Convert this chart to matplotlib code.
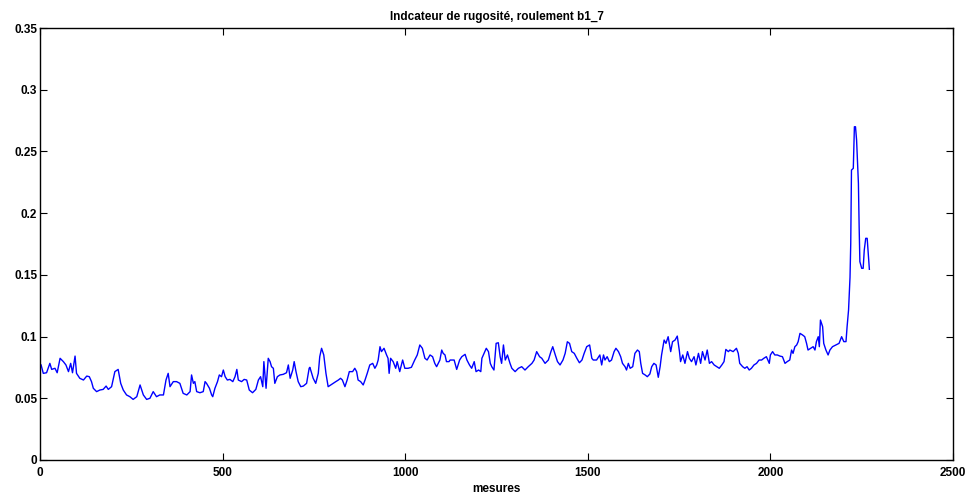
import matplotlib
matplotlib.use("Agg")
import matplotlib.pyplot as plt
import numpy as np

mesures = [
    3, 9, 18, 27, 32, 41, 47, 55, 64, 71, 78, 84, 89, 96, 100, 109, 119, 128, 135, 141,
    146, 155, 164, 173, 181, 187, 196, 205, 214, 221, 228, 237, 246, 255, 265, 274, 283, 292, 301, 310,
    319, 328, 338, 345, 351, 356, 365, 374,
    383, 392, 402, 411, 415, 420, 424, 429, 438, 447, 452, 456, 464, 470, 473, 479, 486, 491, 497, 502,
    507, 513, 520, 528, 534, 539, 543, 552, 559, 566, 573, 582, 591, 598, 604, 610, 613, 619, 625, 630,
    634, 639, 643, 650, 657, 666, 675, 680, 685, 692, 696, 701, 707, 714, 721, 730, 737,
    739, 748, 755, 762, 766, 771, 777, 783, 789, 796, 803, 810, 817, 823, 828, 835, 841, 847, 856, 862,
    867, 871, 878, 885, 890, 896, 903, 911, 917, 922, 926, 931, 935, 942, 949, 953, 956, 960, 967, 974,
    978, 985, 993, 999, 1008, 1017, 1026, 1033, 1040, 1047, 1054, 1060, 1068, 1075, 1081, 1086, 1095,
    1100, 1104, 1109, 1113, 1120,
    1123, 1134, 1141, 1149, 1155, 1164, 1169, 1176, 1182, 1189, 1194, 1201, 1207, 1210, 1214, 1222, 1228,
    1233, 1237, 1243, 1249, 1255, 1260, 1264, 1269, 1274, 1280, 1287, 1292, 1301, 1310, 1319, 1328, 1337,
    1347, 1353, 1360, 1368, 1374, 1383, 1392, 1399, 1404, 1411, 1417, 1424, 1432, 1438, 1444, 1450, 1456,
    1463, 1470, 1477, 1484, 1490, 1497, 1505,
    1511, 1515, 1524, 1533, 1538, 1543, 1547, 1553, 1559, 1565, 1572, 1577, 1584, 1590, 1595, 1602, 1606,
    1611, 1616, 1623, 1629, 1636, 1641, 1645, 1650, 1657, 1663, 1670, 1675, 1681, 1687, 1693, 1698, 1702,
    1709, 1714, 1720, 1727, 1732, 1739, 1745, 1751, 1754, 1760, 1766, 1773, 1778, 1784, 1791, 1796, 1803,
    1809, 1814, 1821, 1827, 1833, 1839, 1846, 1853, 1860, 1867, 1873, 1878, 1885,
    1889, 1898, 1907, 1912, 1916, 1924, 1930, 1936, 1942, 1948, 1955, 1962, 1969, 1976, 1982, 1989, 1997,
    2000, 2006, 2012, 2019, 2026, 2033, 2040, 2046, 2053, 2058, 2062, 2067, 2072, 2076, 2081, 2088, 2094,
    2099, 2103, 2110, 2117, 2122, 2126, 2131, 2134, 2137, 2143, 2146, 2152, 2158, 2163, 2170, 2179, 2188,
    2195, 2201, 2207, 2210, 2214,
    2218, 2220, 2222, 2227, 2230, 2233, 2236, 2241, 2243, 2245, 2250, 2254, 2257, 2261, 2265, 2268, 2271,
]
rugosite = [
    .0770, .0702, .0707, .0783, .0734, .0743, .0707, .0824, .0797, .0770, .0716, .0783, .0707, .0842, .0702,
    .0662, .0648, .0680, .0675, .0635, .0581, .0554, .0567, .0572, .0599, .0572, .0594, .0716, .0734, .0621,
    .0567, .0527, .0513, .0491, .0513, .0608, .0527, .0491, .0500, .0554, .0513, .0527, .0527, .0648, .0702,
    .0594, .0635, .0635,
    .0621, .0540, .0527, .0554, .0689, .0621, .0635, .0554, .0545, .0554, .0635, .0621, .0581, .0527, .0513,
    .0581, .0635, .0689, .0675, .0729, .0675, .0648, .0653, .0635, .0675, .0734, .0648, .0635, .0653, .0648,
    .0567, .0545, .0572, .0648, .0675, .0594, .0797, .0581, .0824, .0797, .0756, .0743, .0621, .0675, .0689,
    .0694, .0707, .0770, .0662, .0729, .0797, .0716, .0635, .0594, .0599, .0621, .0743,
    .0751, .0662, .0621, .0702, .0837, .0905, .0851, .0702, .0594, .0608, .0621, .0635, .0648, .0662, .0648,
    .0594, .0648, .0716, .0716, .0743, .0716, .0648, .0635, .0608, .0648, .0702, .0770, .0783, .0743, .0770,
    .0810, .0918, .0878, .0905, .0851, .0824, .0702, .0824, .0797, .0743, .0797, .0716, .0810, .0743, .0743,
    .0751, .0810, .0851, .0932, .0905, .0824, .0810, .0851, .0837, .0783, .0756, .0810, .0891, .0864, .0851,
    .0797, .0797,
    .0810, .0810, .0734, .0810, .0837, .0856, .0810, .0770, .0743, .0797, .0716, .0729, .0716, .0824, .0851,
    .0905, .0878, .0783, .0756, .0729, .0945, .0950, .0837, .0783, .0932, .0810, .0851, .0783, .0743, .0716,
    .0743, .0756, .0729, .0756, .0783, .0810, .0878, .0837, .0824, .0783, .0810, .0878, .0918, .0851, .0797,
    .0770, .0810, .0864, .0958, .0945, .0878, .0864, .0824, .0788, .0810, .0864, .0918, .0932,
    .0824, .0810, .0810, .0851, .0770, .0851, .0810, .0837, .0797, .0810, .0878, .0905, .0878, .0837, .0783,
    .0756, .0729, .0783, .0743, .0756, .0864, .0891, .0878, .0783, .0702, .0689, .0675, .0697, .0756, .0783,
    .0770, .0670, .0756, .0851, .0972, .0945, .0999, .0878, .0958, .0972, .1004, .0878, .0797, .0851, .0783,
    .0878, .0824, .0797, .0837, .0770, .0864, .0783, .0878, .0810, .0891, .0783, .0797, .0770, .0756, .0743,
    .0770, .0797, .0896, .0878,
    .0891, .0878, .0905, .0864, .0783, .0756, .0743, .0756, .0729, .0743, .0770, .0783, .0810, .0810, .0824,
    .0837, .0783, .0851, .0878, .0851, .0851, .0842, .0837, .0783, .0797, .0810, .0891, .0864, .0918, .0932,
    .0959, .1026, .1013, .0999, .0945, .0891, .0905, .0918, .0891, .0959, .0999, .0918, .1134, .1080, .0945,
    .0891, .0851, .0891, .0918, .0932, .0945, .0999, .0959, .0959, .1080, .1215,
    .148, .1755, .2349, .2363, .270, .270, .2592, .2241, .189, .1607, .1553, .1553, .170, .1796, .1796,
    .1674, .1545,
]
xticks = [0, 500, 1000, 1500, 2000, 2500]
yticks = [0, 0.05, 0.1, 0.15, 0.2, 0.25, 0.3, 0.35]
ylabels = ["0", "0.05", "0.1", "0.15", "0.2", "0.25", "0.3", "0.35"]

plt.rcParams['font.family'] = ['Liberation Sans', 'DejaVu Sans']
plt.rcParams['font.weight'] = 'bold'

fig = plt.figure(figsize=(9.74, 4.95), dpi=100)
ax = fig.add_axes([40 / 974, 35 / 495, 913 / 974, 432 / 495])

ax.plot(mesures, rugosite, color=(0, 0, 1), linewidth=1.0)

ax.set_xlim(0, 2500)
ax.set_ylim(0, 0.35)
ax.set_xticks(xticks)
ax.set_xticklabels([str(t) for t in xticks])
ax.set_yticks(yticks)
ax.set_yticklabels(ylabels)
ax.tick_params(direction='in', top=True, right=True, length=5, width=0.8,
               labelsize=8.5, pad=2)
ax.tick_params(axis='x', pad=5)
for s in ax.spines.values():
    s.set_linewidth(1.0)

ax.set_title("Indcateur de rugosité, roulement b1_7", fontsize=8.5, fontweight='bold', pad=6)
ax.set_xlabel("mesures", fontsize=8.5, fontweight='bold', labelpad=3)

fig.savefig("out.png", dpi=100)
